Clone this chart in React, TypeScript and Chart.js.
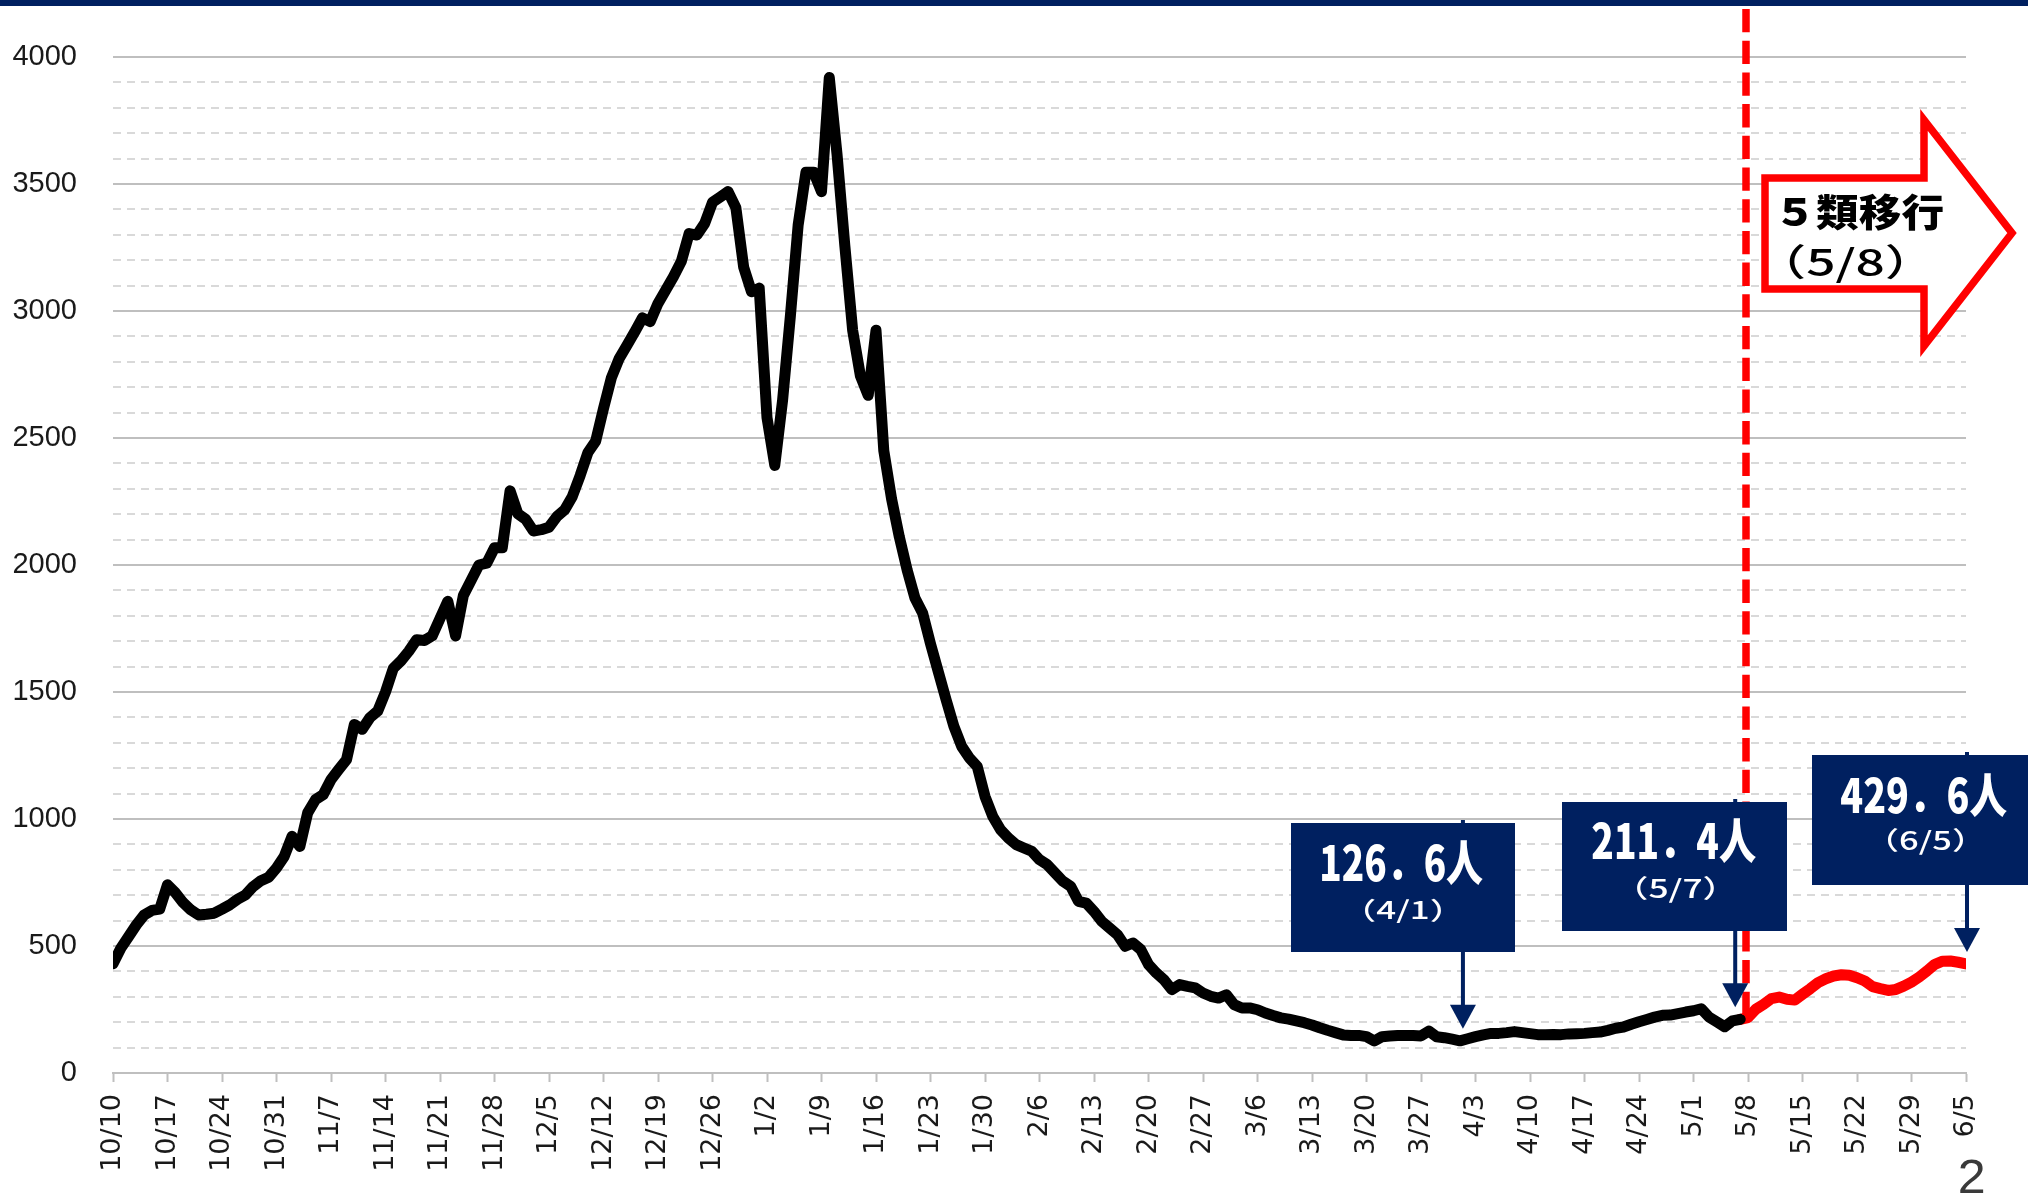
import React, { useEffect, useRef } from 'react';
import { Chart, registerables } from 'chart.js';

Chart.register(...registerables);

// ---------- DATA ----------
// x tick labels (one every 7 days, 10/10 .. 6/5)
const TICK_LABELS = [
  '10/10', '10/17', '10/24', '10/31', '11/7', '11/14', '11/21', '11/28',
  '12/5', '12/12', '12/19', '12/26', '1/2', '1/9', '1/16', '1/23', '1/30',
  '2/6', '2/13', '2/20', '2/27', '3/6', '3/13', '3/20', '3/27',
  '4/3', '4/10', '4/17', '4/24', '5/1', '5/8', '5/15', '5/22', '5/29', '6/5',
];
const DAYS_PER_TICK = 7;
const LAST_DAY = 238; // 6/5

// daily values 10/10 .. 5/7 (before the category-5 transition)
const BEFORE_VALUES = [
  430, 491, 537, 583, 622, 640, 645, 741, 710, 671,
  642, 622, 625, 629, 645, 662, 684, 701, 734, 757,
  771, 807, 853, 932, 892, 1024, 1076, 1096, 1155, 1195,
  1234, 1372, 1353, 1399, 1425, 1500, 1593, 1623, 1661, 1706,
  1703, 1721, 1789, 1857, 1721, 1880, 1940, 2000, 2007, 2068,
  2068, 2292, 2202, 2180, 2134, 2139, 2149, 2190, 2217, 2270,
  2352, 2443, 2488, 2616, 2736, 2812, 2864, 2917, 2973, 2958,
  3030, 3083, 3136, 3196, 3305, 3299, 3345, 3428, 3449, 3470,
  3407, 3173, 3076, 3090, 2580, 2392, 2648, 2979, 3338, 3546,
  3546, 3470, 3919, 3615, 3256, 2924, 2744, 2668, 2924, 2450,
  2260, 2110, 1980, 1870, 1810, 1690, 1580, 1470, 1365, 1286,
  1240, 1207, 1089, 1010, 958, 925, 899, 886, 873, 840,
  820, 787, 755, 735, 676, 669, 636, 597, 571, 545,
  499, 512, 486, 427, 394, 367, 328, 348, 341, 335,
  315, 302, 295, 308, 269, 256, 256, 249, 236, 226,
  217, 212, 205, 198, 189, 178, 168, 159, 150, 148,
  148, 143, 126, 143, 146, 148, 148, 148, 146, 165,
  143, 139, 133, 126.6, 135, 143, 150, 156, 156, 159,
  163, 159, 155, 151, 151, 152, 151, 154, 155, 156,
  159, 161, 168, 176, 181, 192, 202, 211, 220, 227,
  228, 234, 240, 245, 253, 220, 201, 182, 205, 211.4,
];

// daily values 5/7 .. 6/5 (after the transition, red)
const AFTER_VALUES = [
  211.4, 218, 251, 270, 293, 299, 290, 287, 310, 332,
  356, 371, 382, 387, 385, 375, 362, 340, 332, 325,
  329, 342, 358, 378, 402, 428, 440, 441, 436, 429.6,
];
const AFTER_START_DAY = BEFORE_VALUES.length - 1; // 5/7
const TRANSITION_DAY = 210; // 5/8

const CALLOUTS = [
  { day: 173, value: 126.6, main: '126．6人', sub: '（4/1）' },
  { day: 209, value: 211.4, main: '211．4人', sub: '（5/7）' },
  { day: 238, value: 429.6, main: '429．6人', sub: '（6/5）' },
];
const TRANSITION_TITLE = '５類移行';
const TRANSITION_DATE = '（5/8）';
const PAGE_NUMBER = '2';

// ---------- LAYOUT / STYLE ----------
const NAVY = '#002060';
const RED = '#ff0000';
const AXIS_FONT = '"Liberation Sans", Arial, sans-serif';
const XTICK_FONT = '"DejaVu Sans", sans-serif';
const CJK_FONT = '"Noto Sans CJK JP", "Noto Sans", sans-serif';

const CALLOUT_LAYOUT = [
  { box: [1291, 823, 1515, 952], mainRect: [1322, 840, 1483, 885], subRect: [1365, 897, 1441, 923], dx: 3 },
  { box: [1562, 802, 1787, 931], mainRect: [1592, 818, 1756, 863], subRect: [1637, 875, 1714, 902], dx: -5 },
  { box: [1812, 755, 2040, 885], mainRect: [1841, 773, 2007, 817], subRect: [1888, 827, 1963, 854], dx: 1 },
];

function fitText(ctx: CanvasRenderingContext2D, text: string, font: string, rect: number[], color: string) {
  ctx.save();
  ctx.font = font;
  ctx.textAlign = 'left';
  ctx.textBaseline = 'alphabetic';
  const m = ctx.measureText(text);
  const l = m.actualBoundingBoxLeft;
  const r = m.actualBoundingBoxRight;
  const a = m.actualBoundingBoxAscent;
  const d = m.actualBoundingBoxDescent;
  const w = l + r;
  const h = a + d;
  const sx = (rect[2] - rect[0]) / w;
  const sy = (rect[3] - rect[1]) / h;
  ctx.translate(rect[0], rect[1]);
  ctx.scale(sx, sy);
  ctx.fillStyle = color;
  ctx.fillText(text, l, a);
  ctx.restore();
}

const overlayPlugin = {
  id: 'overlay',
  beforeDatasetsDraw(chart: any) {
    const { ctx, chartArea: area, scales } = chart;
    const y = scales.y;
    ctx.save();
    for (let v = 100; v <= 4000; v += 100) {
      const py = Math.round(y.getPixelForValue(v));
      const major = v % 500 === 0;
      ctx.beginPath();
      ctx.lineWidth = 2;
      ctx.strokeStyle = major ? '#bfbfbf' : '#d9d9d9';
      ctx.setLineDash(major ? [] : [8, 6]);
      ctx.moveTo(area.left, py);
      ctx.lineTo(area.right, py);
      ctx.stroke();
    }
    ctx.restore();
  },
  afterDraw(chart: any) {
    const { ctx, scales } = chart;
    const x = scales.x;
    const y = scales.y;

    // red dashed transition line
    ctx.save();
    const tx = x.getPixelForValue(TRANSITION_DAY) - 2;
    ctx.strokeStyle = RED;
    ctx.lineWidth = 7.5;
    ctx.setLineDash([23.3, 8.4]);
    ctx.beginPath();
    ctx.moveTo(tx, 9);
    ctx.lineTo(tx, y.getPixelForValue(AFTER_VALUES[1]));
    ctx.stroke();
    ctx.restore();

    // callouts
    CALLOUTS.forEach((c, i) => {
      const L = CALLOUT_LAYOUT[i];
      const ax = x.getPixelForValue(c.day) + L.dx;
      const tipY = y.getPixelForValue(c.value) - 12;
      const headH = 24;
      const headW = 26;
      ctx.save();
      ctx.strokeStyle = NAVY;
      ctx.fillStyle = NAVY;
      ctx.lineWidth = 4;
      ctx.beginPath();
      ctx.moveTo(ax, L.box[1] - 3);
      ctx.lineTo(ax, tipY - headH + 2);
      ctx.stroke();
      ctx.beginPath();
      ctx.moveTo(ax - headW / 2, tipY - headH);
      ctx.lineTo(ax + headW / 2, tipY - headH);
      ctx.lineTo(ax, tipY);
      ctx.closePath();
      ctx.fill();
      ctx.fillRect(L.box[0], L.box[1], L.box[2] - L.box[0], L.box[3] - L.box[1]);
      ctx.restore();
      fitText(ctx, c.main, `900 56px ${CJK_FONT}`, L.mainRect, '#ffffff');
      fitText(ctx, c.sub, `500 28px ${CJK_FONT}`, L.subRect, '#ffffff');
    });

    // red block arrow
    ctx.save();
    ctx.beginPath();
    ctx.moveTo(1765, 178);
    ctx.lineTo(1924, 178);
    ctx.lineTo(1924, 120);
    ctx.lineTo(2012, 233);
    ctx.lineTo(1924, 346);
    ctx.lineTo(1924, 289);
    ctx.lineTo(1765, 289);
    ctx.closePath();
    ctx.fillStyle = '#ffffff';
    ctx.fill();
    ctx.lineJoin = 'miter';
    ctx.lineWidth = 7.5;
    ctx.strokeStyle = RED;
    ctx.stroke();
    ctx.restore();
    fitText(ctx, TRANSITION_TITLE, `900 40px ${CJK_FONT}`, [1782, 193, 1943, 231], '#000000');
    fitText(ctx, TRANSITION_DATE, `500 36px ${CJK_FONT}`, [1789, 243, 1902, 283], '#000000');

    // top bar
    ctx.save();
    ctx.fillStyle = NAVY;
    ctx.fillRect(0, 0, chart.width, 6);
    ctx.restore();

    // page number
    fitText(ctx, PAGE_NUMBER, `46px ${AXIS_FONT}`, [1960, 1160, 1984, 1193], '#3a3a3a');
  },
};

export default function App() {
  const ref = useRef<HTMLCanvasElement>(null);

  useEffect(() => {
    const canvas = ref.current;
    if (!canvas) return;
    const black = BEFORE_VALUES.map((v, i) => ({ x: i, y: v }));
    const red = AFTER_VALUES.map((v, i) => ({ x: AFTER_START_DAY + i, y: v }));
    const chart = new Chart(canvas, {
      type: 'line',
      data: {
        datasets: [
          {
            data: black,
            borderColor: '#000000',
            borderWidth: 11,
            pointRadius: 0,
            borderJoinStyle: 'round',
            borderCapStyle: 'round',
            tension: 0,
            fill: false,
          },
          {
            data: red,
            borderColor: RED,
            borderWidth: 11,
            pointRadius: 0,
            borderJoinStyle: 'round',
            borderCapStyle: 'round',
            tension: 0,
            fill: false,
          },
        ],
      },
      options: {
        responsive: false,
        animation: false,
        devicePixelRatio: 1,
        layout: { padding: { left: 0, right: 62, top: 57, bottom: 0 } },
        plugins: {
          legend: { display: false },
          tooltip: { enabled: false },
          title: { display: false },
        },
        scales: {
          x: {
            type: 'linear',
            min: 0,
            max: LAST_DAY,
            afterFit: (s: any) => { s.height = 124; },
            ticks: {
              stepSize: DAYS_PER_TICK,
              autoSkip: false,
              minRotation: 90,
              maxRotation: 90,
              padding: 12,
              color: '#1a1a1a',
              font: { family: XTICK_FONT, size: 27 },
              callback: (v: any) => TICK_LABELS[Math.round(Number(v) / DAYS_PER_TICK)] ?? '',
            },
            grid: {
              display: true,
              drawOnChartArea: false,
              drawTicks: true,
              tickLength: 9,
              tickColor: '#bfbfbf',
              tickWidth: 2,
            },
            border: { display: true, color: '#bfbfbf', width: 2 },
          },
          y: {
            type: 'linear',
            min: 0,
            max: 4000,
            afterFit: (s: any) => { s.width = 113; },
            ticks: {
              stepSize: 500,
              padding: 36,
              color: '#1a1a1a',
              font: { family: AXIS_FONT, size: 29 },
              callback: (v: any) => String(v),
            },
            grid: { display: false, drawTicks: false },
            border: { display: false },
          },
        },
      },
      plugins: [overlayPlugin],
    } as any);
    return () => chart.destroy();
  }, []);

  return (
    <div style={{ position: 'absolute', left: 0, top: 0, width: 2028, height: 1197, background: '#ffffff' }}>
      <canvas ref={ref} width={2028} height={1197} style={{ display: 'block' }} />
    </div>
  );
}
